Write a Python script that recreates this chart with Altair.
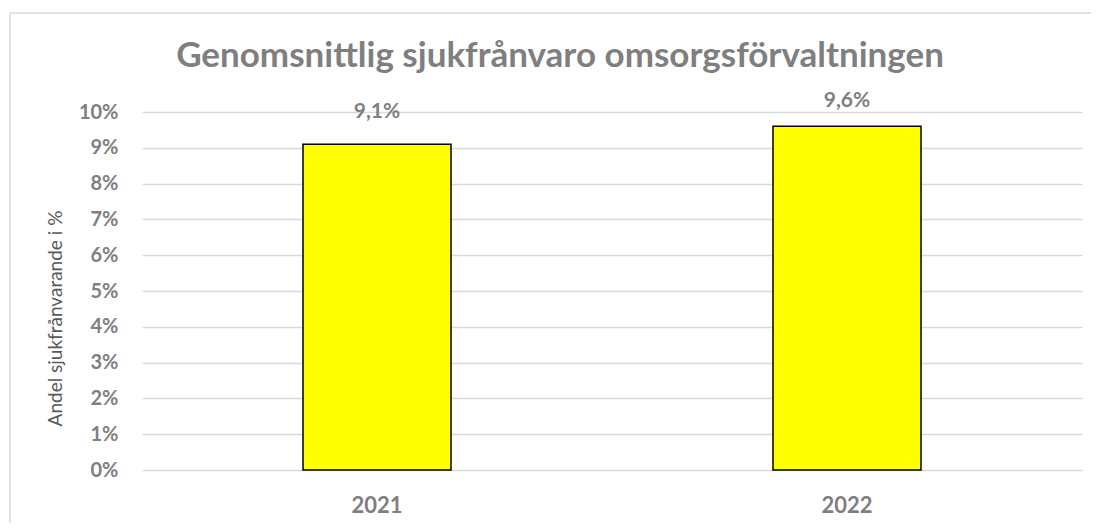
import altair as alt
import pandas as pd

years = ["2021", "2022"]
values = [0.091, 0.096]
tick_values = [0.00, 0.01, 0.02, 0.03, 0.04, 0.05, 0.06, 0.07, 0.08, 0.09, 0.10]

df = pd.DataFrame({"year": years, "value": values})

W, H = 940, 358
GREY = "#7f7f7f"
FONT = "Lato"

base = alt.Chart(df)

x_enc = alt.X("year:N", sort=years, scale=alt.Scale(paddingInner=0, paddingOuter=0),
              axis=alt.Axis(title=None, labelAngle=0, labelFontSize=22, labelFont=FONT,
                            labelFontWeight="bold", labelColor=GREY, labelPadding=25,
                            domain=False, ticks=False, grid=False))
y_enc = alt.Y("value:Q", scale=alt.Scale(domain=[0, 0.10], nice=False),
              axis=alt.Axis(title="Andel sjukfrånvarande i %", format=".0%", values=tick_values,
                            labelOverlap=False,
                            labelFontSize=20, labelFont=FONT, labelFontWeight="bold",
                            labelColor=GREY, labelPadding=24, domain=False, ticks=False,
                            gridColor="#d9d9d9", gridWidth=1.5,
                            titleFont=FONT, titleFontSize=19, titleFontWeight="normal",
                            titleColor="#595959", titleX=-77, titleY=206, titleAlign="center",
                            titleBaseline="bottom", titleAngle=270))

frame = pd.DataFrame({"d": [0]})
border_top = alt.Chart(frame).mark_rule(stroke="#d9d9d9", strokeWidth=1.5).encode(
    x=alt.value(-132), x2=alt.value(W + 9), y=alt.value(-99)
)
border_left = alt.Chart(frame).mark_rule(stroke="#d9d9d9", strokeWidth=1.5).encode(
    x=alt.value(-132), y=alt.value(-99), y2=alt.value(H + 53)
)

bars = base.mark_bar(size=148, color="#ffff00", stroke="#000000", strokeWidth=1.5).encode(
    x=x_enc,
    y=y_enc,
)

def label_layer(year, dy):
    return base.transform_filter(alt.datum.year == year).transform_calculate(
        lbl="replace(format(datum.value, '.1%'), '.', ',')"
    ).mark_text(baseline="alphabetic", dy=dy, fontSize=21, font=FONT, fontWeight="bold", color=GREY).encode(
        x=x_enc,
        y=y_enc,
        text="lbl:N",
    )

chart = alt.layer(border_top, border_left, bars, label_layer("2021", -26), label_layer("2022", -19)).properties(
    width=W, height=H,
    title=alt.TitleParams("Genomsnittlig sjukfrånvaro omsorgsförvaltningen", fontSize=35, font=FONT,
                          fontWeight="bold", color=GREY, anchor="middle", dx=-52, offset=0,
                          baseline="alphabetic", dy=90),
    padding={"left": 134, "top": 104, "right": 9, "bottom": 53},
    autosize=alt.AutoSizeParams(type="none"),
).configure_view(stroke=None)

chart.save("out.html", embed_options={"renderer": "svg", "actions": False})
